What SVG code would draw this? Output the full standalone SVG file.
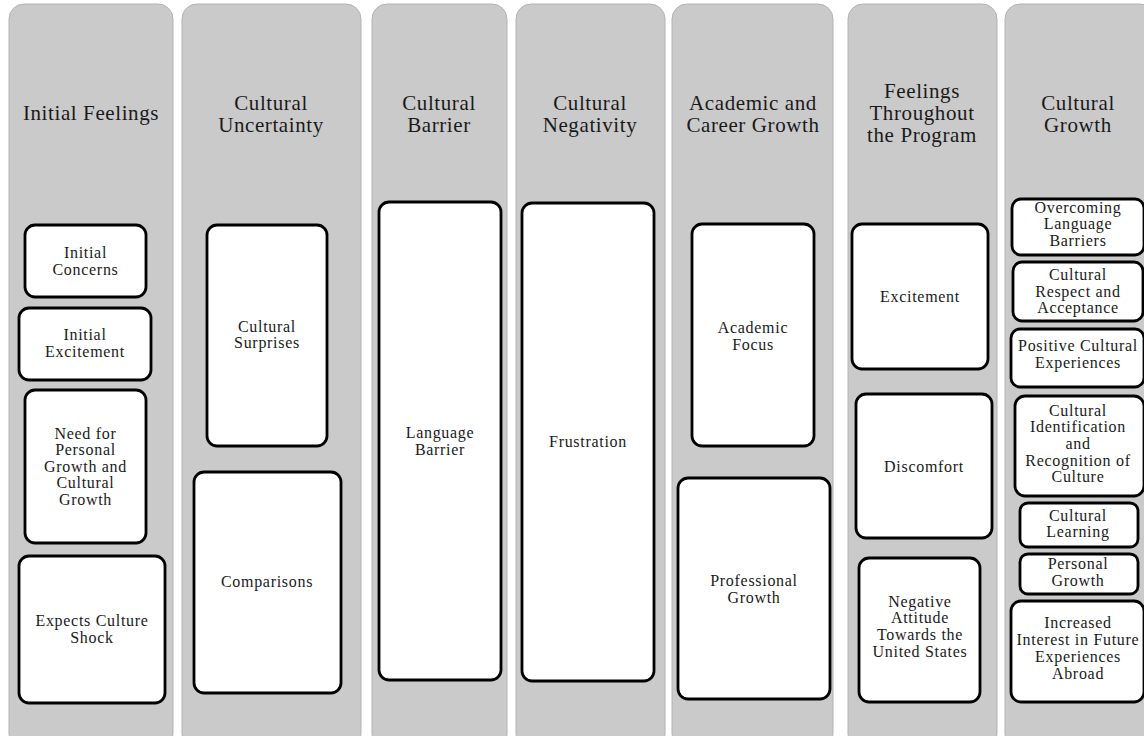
<svg xmlns="http://www.w3.org/2000/svg" width="1144" height="736" viewBox="0 0 1144 736">
<style>
.col{fill:#cacaca;stroke:#b3b3b3;stroke-width:1}
.box{fill:#ffffff;stroke:#000000;stroke-width:2.8}
.hd{font-family:'Liberation Serif','DejaVu Serif','Times New Roman',serif;font-size:21px;letter-spacing:0.6px;fill:#1a1a1a;text-anchor:middle}
.tx{font-family:'Liberation Serif','DejaVu Serif','Times New Roman',serif;font-size:16px;letter-spacing:0.7px;fill:#1a1a1a;text-anchor:middle}
</style>
<rect width="1144" height="736" fill="#ffffff"/>
<g id="columns">
<g id="col-initial-feelings"><rect class="col" x="9" y="4" width="164" height="745" rx="15"/><text class="hd" x="91" y="120">Initial Feelings</text></g>
<g id="col-cultural-uncertainty"><rect class="col" x="182" y="4" width="179" height="745" rx="15"/><text class="hd" x="271" y="110">Cultural</text><text class="hd" x="271" y="132">Uncertainty</text></g>
<g id="col-cultural-barrier"><rect class="col" x="372" y="4" width="135" height="745" rx="15"/><text class="hd" x="439" y="110">Cultural</text><text class="hd" x="439" y="132">Barrier</text></g>
<g id="col-cultural-negativity"><rect class="col" x="516" y="4" width="149" height="745" rx="15"/><text class="hd" x="590" y="110">Cultural</text><text class="hd" x="590" y="132">Negativity</text></g>
<g id="col-academic"><rect class="col" x="672" y="4" width="161" height="745" rx="15"/><text class="hd" x="753" y="110">Academic and</text><text class="hd" x="753" y="132">Career Growth</text></g>
<g id="col-feelings"><rect class="col" x="848" y="4" width="149" height="745" rx="15"/><text class="hd" x="922" y="98">Feelings</text><text class="hd" x="922" y="120">Throughout</text><text class="hd" x="922" y="142">the Program</text></g>
<g id="col-cultural-growth"><rect class="col" x="1005" y="4" width="150" height="745" rx="15"/><text class="hd" x="1078" y="110">Cultural</text><text class="hd" x="1078" y="132">Growth</text></g>
</g>
<g id="nodes">
<g id="n-initial-concerns"><rect class="box" x="25" y="225" width="121" height="72" rx="10"/><text class="tx" x="85.5" y="258">Initial</text><text class="tx" x="85.5" y="274.5">Concerns</text></g>
<g id="n-initial-excitement"><rect class="box" x="19" y="308" width="132" height="72" rx="10"/><text class="tx" x="85" y="340">Initial</text><text class="tx" x="85" y="356.6">Excitement</text></g>
<g id="n-need"><rect class="box" x="25" y="390" width="121" height="153" rx="10"/><text class="tx" x="85.5" y="438.6">Need for</text><text class="tx" x="85.5" y="455.1">Personal</text><text class="tx" x="85.5" y="471.6">Growth and</text><text class="tx" x="85.5" y="488.1">Cultural</text><text class="tx" x="85.5" y="504.6">Growth</text></g>
<g id="n-expects"><rect class="box" x="19" y="556" width="146" height="147" rx="10"/><text class="tx" x="92" y="626">Expects Culture</text><text class="tx" x="92" y="642.7">Shock</text></g>
<g id="n-surprises"><rect class="box" x="207" y="225" width="120" height="221" rx="10"/><text class="tx" x="267" y="331.6">Cultural</text><text class="tx" x="267" y="348.2">Surprises</text></g>
<g id="n-comparisons"><rect class="box" x="194" y="472" width="147" height="221" rx="10"/><text class="tx" x="267" y="587">Comparisons</text></g>
<g id="n-language-barrier"><rect class="box" x="379" y="202" width="122" height="478" rx="10"/><text class="tx" x="440" y="438">Language</text><text class="tx" x="440" y="454.6">Barrier</text></g>
<g id="n-frustration"><rect class="box" x="522" y="203" width="132" height="478" rx="10"/><text class="tx" x="588" y="447">Frustration</text></g>
<g id="n-academic-focus"><rect class="box" x="692" y="224" width="122" height="222" rx="10"/><text class="tx" x="753" y="332.8">Academic</text><text class="tx" x="753" y="349.5">Focus</text></g>
<g id="n-professional-growth"><rect class="box" x="678" y="478" width="152" height="221" rx="10"/><text class="tx" x="754" y="586">Professional</text><text class="tx" x="754" y="602.6">Growth</text></g>
<g id="n-excitement"><rect class="box" x="852" y="224" width="136" height="145" rx="10"/><text class="tx" x="920" y="301.5">Excitement</text></g>
<g id="n-discomfort"><rect class="box" x="856" y="394" width="136" height="144" rx="10"/><text class="tx" x="924" y="471.8">Discomfort</text></g>
<g id="n-negative"><rect class="box" x="859" y="558" width="121" height="144" rx="10"/><text class="tx" x="920" y="606.8">Negative</text><text class="tx" x="920" y="623.4">Attitude</text><text class="tx" x="920" y="640">Towards the</text><text class="tx" x="920" y="656.6">United States</text></g>
<g id="n-overcoming"><rect class="box" x="1012" y="199" width="132" height="56" rx="9"/><text class="tx" x="1078" y="212.6">Overcoming</text><text class="tx" x="1078" y="229.2">Language</text><text class="tx" x="1078" y="245.8">Barriers</text></g>
<g id="n-respect"><rect class="box" x="1013" y="262" width="130" height="59" rx="9"/><text class="tx" x="1078" y="279.8">Cultural</text><text class="tx" x="1078" y="296.5">Respect and</text><text class="tx" x="1078" y="313.2">Acceptance</text></g>
<g id="n-positive"><rect class="box" x="1011" y="329" width="133" height="58" rx="9"/><text class="tx" x="1078" y="351">Positive Cultural</text><text class="tx" x="1078" y="367.6">Experiences</text></g>
<g id="n-identification"><rect class="box" x="1015" y="396" width="129" height="100" rx="10"/><text class="tx" x="1078" y="415.6">Cultural</text><text class="tx" x="1078" y="432.3">Identification</text><text class="tx" x="1078" y="449">and</text><text class="tx" x="1078" y="465.7">Recognition of</text><text class="tx" x="1078" y="482.4">Culture</text></g>
<g id="n-learning"><rect class="box" x="1020" y="503" width="118" height="44" rx="8"/><text class="tx" x="1078" y="520.5">Cultural</text><text class="tx" x="1078" y="537.1">Learning</text></g>
<g id="n-personal"><rect class="box" x="1020" y="554" width="118" height="40" rx="8"/><text class="tx" x="1078" y="569.4">Personal</text><text class="tx" x="1078" y="586">Growth</text></g>
<g id="n-increased"><rect class="box" x="1011" y="601" width="133" height="101" rx="10"/><text class="tx" x="1078" y="628">Increased</text><text class="tx" x="1078" y="645">Interest in Future</text><text class="tx" x="1078" y="662">Experiences</text><text class="tx" x="1078" y="679">Abroad</text></g>
</g>
<g id="connectors"></g>
</svg>
